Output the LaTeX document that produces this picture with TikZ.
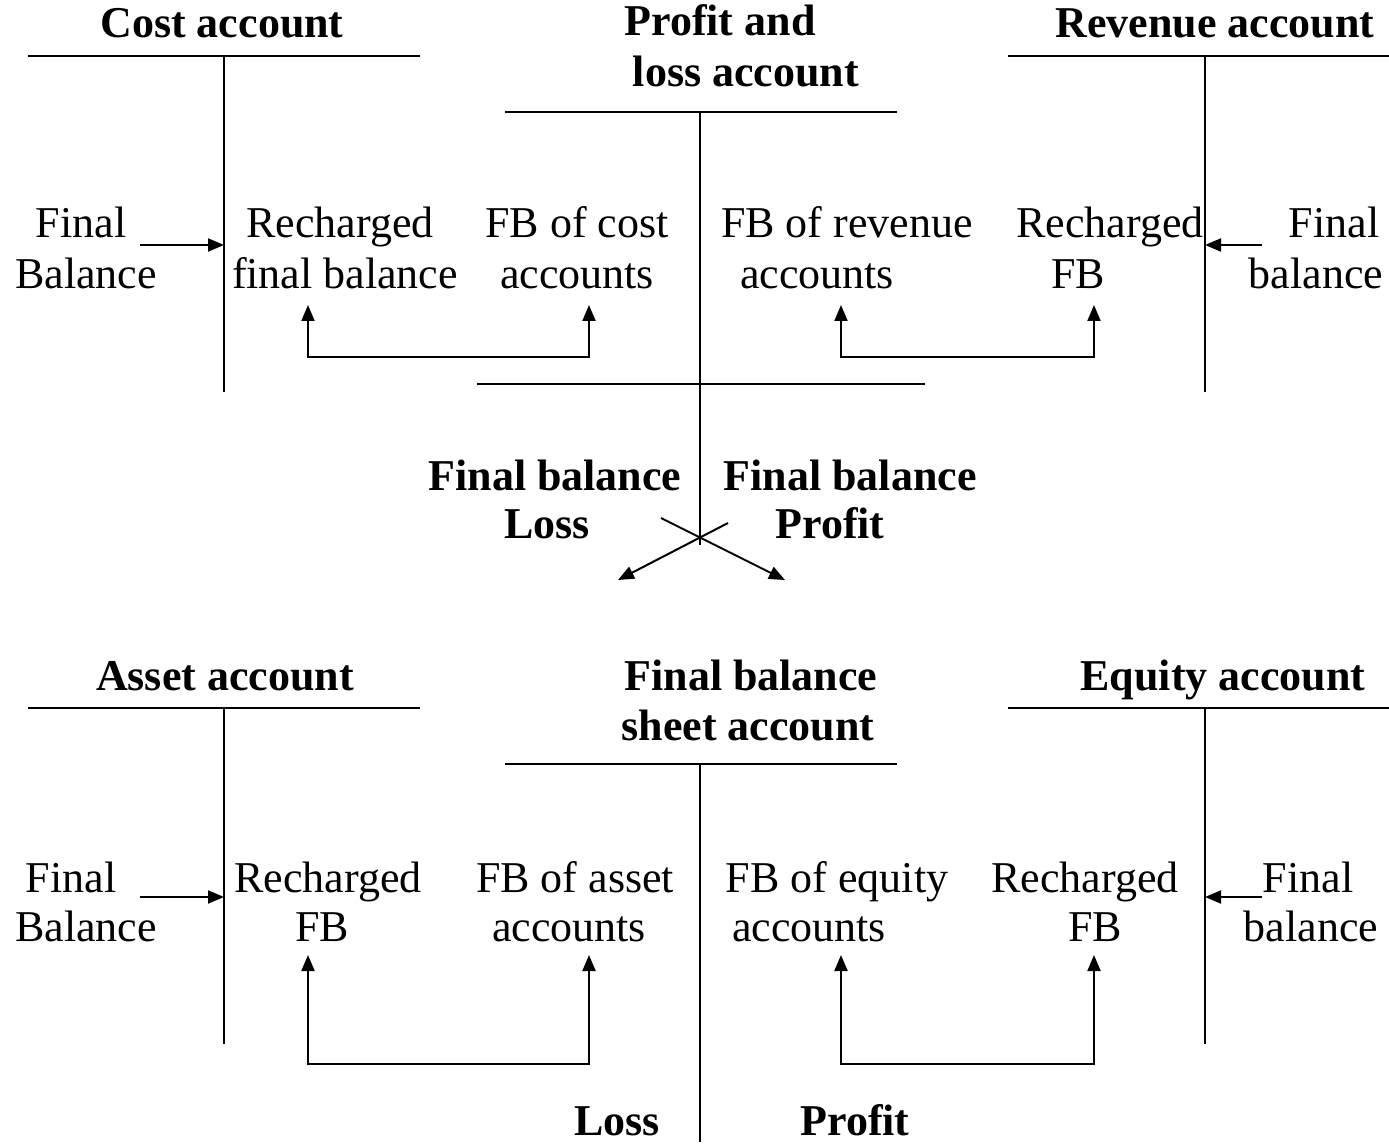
\documentclass[tikz,border=0pt]{standalone}
\usepackage{fontspec}
\setmainfont{Liberation Serif}
\usetikzlibrary{arrows.meta}
\begin{document}
\begin{tikzpicture}[x=0.5pt,y=-0.5pt,
  txt/.style={anchor=base,inner sep=0pt,font=\fontsize{22pt}{25pt}\selectfont},
  btxt/.style={txt,font=\fontsize{22pt}{25pt}\selectfont\bfseries},
  tline/.style={line width=1pt},
  arr/.style={line width=1pt,-{Triangle[length=8pt,width=6.5pt]}},
  darr/.style={line width=1pt,{Triangle[length=8pt,width=6.5pt]}-{Triangle[length=8pt,width=6.5pt]}}]
\useasboundingbox (0,0) rectangle (1389,1145);

% ---------- top: T-accounts ----------
\coordinate (c1) at (28,56); \coordinate (c2) at (420,56);
\coordinate (c3) at (224,56); \coordinate (c4) at (224,392);
\coordinate (p1) at (505,112); \coordinate (p2) at (897,112);
\coordinate (p3) at (700,112); \coordinate (p4) at (700,545);
\coordinate (p5) at (477,384); \coordinate (p6) at (925,384);
\coordinate (r1) at (1008,56); \coordinate (r2) at (1389,56);
\coordinate (r3) at (1205,56); \coordinate (r4) at (1205,392);
\draw[tline] (c1) -- (c2) (c3) -- (c4);
\draw[tline] (p1) -- (p2) (p3) -- (p4) (p5) -- (p6);
\draw[tline] (r1) -- (r2) (r3) -- (r4);

\node[btxt] (tc) at (222,38) {Cost account};
\node[btxt] (tp1) at (720,36) {Profit and};
\node[btxt] (tp2) at (746,87) {loss account};
\node[btxt] (tr) at (1215,38) {Revenue account};

\node[txt] (fa1) at (81,238) {Final};
\node[txt] (fa2) at (86,288) {Balance};
\node[txt] (rc1) at (340,238) {Recharged};
\node[txt] (rc2) at (345,288) {final balance};
\node[txt] (fc1) at (577,238) {FB of cost};
\node[txt] (fc2) at (577,288) {accounts};
\node[txt] (fr1) at (847,238) {FB of revenue};
\node[txt] (fr2) at (817,288) {accounts};
\node[txt] (rr1) at (1110,238) {Recharged};
\node[txt] (rr2) at (1078,288) {FB};
\node[txt] (fb1) at (1334,238) {Final};
\node[txt] (fb2) at (1316,288) {balance};

\coordinate (a1s) at (140,245); \coordinate (a1e) at (224,245);
\draw[arr] (a1s) -- (a1e);
\coordinate (a2s) at (1262,245); \coordinate (a2e) at (1205,245);
\draw[arr] (a2s) -- (a2e);

\coordinate (b1a) at (308,305); \coordinate (b1b) at (589,305);
\draw[darr] (b1a) |- (448,357) -| (b1b);
\coordinate (b2a) at (841,305); \coordinate (b2b) at (1094,305);
\draw[darr] (b2a) |- (967,357) -| (b2b);

% ---------- middle ----------
\node[btxt] (ml1) at (555,490) {Final balance};
\node[btxt] (ml2) at (547,538) {Loss};
\node[btxt] (mr1) at (850,490) {Final balance};
\node[btxt] (mr2) at (830,538) {Profit};
\coordinate (x1s) at (661,518); \coordinate (x1e) at (785,580);
\coordinate (x2s) at (728,523); \coordinate (x2e) at (618,580);
\draw[arr] (x1s) -- (x1e);
\draw[arr] (x2s) -- (x2e);

% ---------- bottom: T-accounts ----------
\coordinate (d1) at (28,708); \coordinate (d2) at (420,708);
\coordinate (d3) at (224,708); \coordinate (d4) at (224,1044);
\coordinate (s1) at (505,764); \coordinate (s2) at (897,764);
\coordinate (s3) at (700,764); \coordinate (s4) at (700,1142);
\coordinate (e1) at (1008,708); \coordinate (e2) at (1389,708);
\coordinate (e3) at (1205,708); \coordinate (e4) at (1205,1044);
\draw[tline] (d1) -- (d2) (d3) -- (d4);
\draw[tline] (s1) -- (s2) (s3) -- (s4);
\draw[tline] (e1) -- (e2) (e3) -- (e4);

\node[btxt] (ta) at (225,690) {Asset account};
\node[btxt] (ts1) at (751,690) {Final balance};
\node[btxt] (ts2) at (748,740) {sheet account};
\node[btxt] (te) at (1223,690) {Equity account};

\node[txt] (ga1) at (71,892) {Final};
\node[txt] (ga2) at (86,941) {Balance};
\node[txt] (ra1) at (328,892) {Recharged};
\node[txt] (ra2) at (322,941) {FB};
\node[txt] (fs1) at (575,892) {FB of asset};
\node[txt] (fs2) at (569,941) {accounts};
\node[txt] (fe1) at (837,892) {FB of equity};
\node[txt] (fe2) at (809,941) {accounts};
\node[txt] (re1) at (1085,892) {Recharged};
\node[txt] (re2) at (1095,941) {FB};
\node[txt] (ge1) at (1308,892) {Final};
\node[txt] (ge2) at (1311,941) {balance};

\coordinate (a3s) at (140,897); \coordinate (a3e) at (224,897);
\draw[arr] (a3s) -- (a3e);
\coordinate (a4s) at (1262,897); \coordinate (a4e) at (1205,897);
\draw[arr] (a4s) -- (a4e);

\coordinate (b3a) at (308,955); \coordinate (b3b) at (589,955);
\draw[darr] (b3a) |- (448,1064) -| (b3b);
\coordinate (b4a) at (841,955); \coordinate (b4b) at (1094,955);
\draw[darr] (b4a) |- (967,1064) -| (b4b);

\node[btxt] (bl) at (617,1135) {Loss};
\node[btxt] (bp) at (855,1135) {Profit};
\end{tikzpicture}
\end{document}
